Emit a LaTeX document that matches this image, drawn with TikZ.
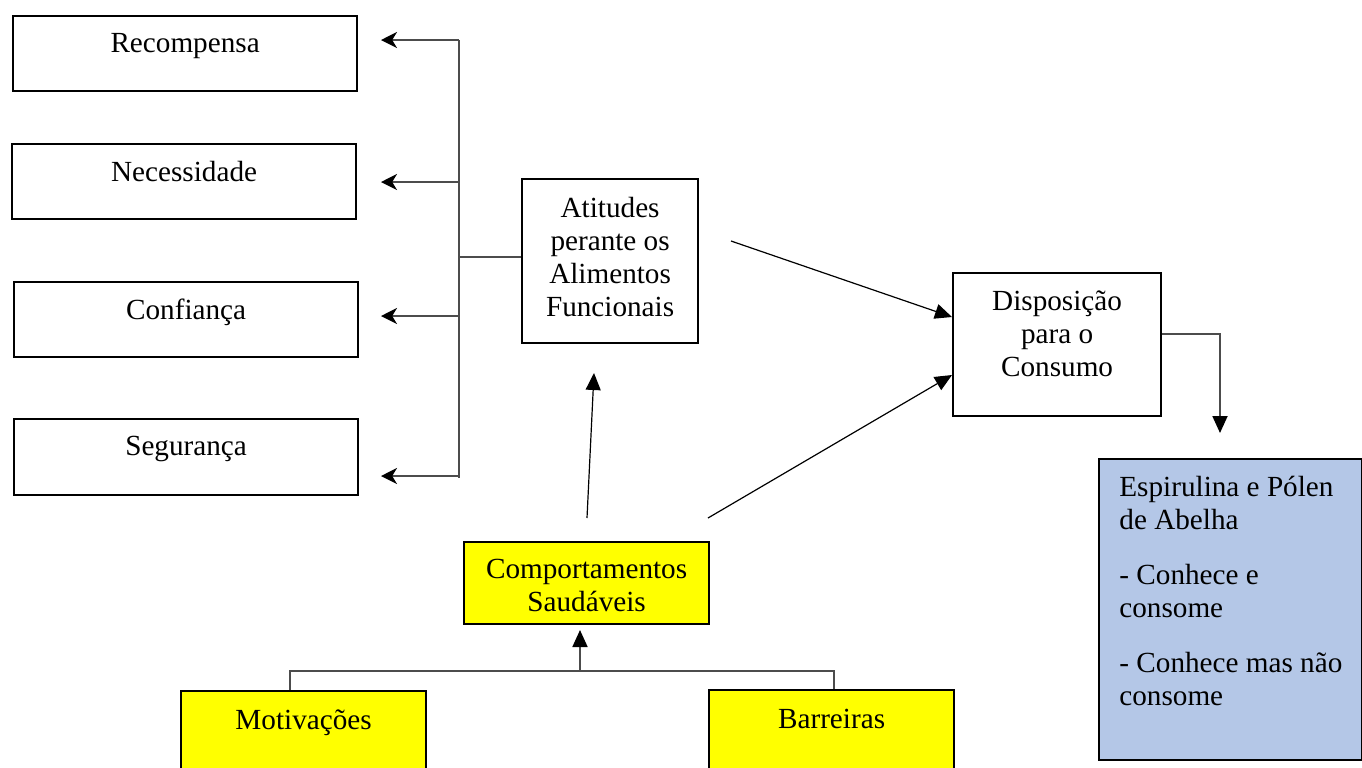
\documentclass[tikz,border=0pt]{standalone}
\usepackage{fontspec}
\setmainfont{Liberation Serif}
\usetikzlibrary{arrows.meta,calc}
\definecolor{boxyellow}{RGB}{255,255,0}
\definecolor{boxblue}{RGB}{180,199,231}
\begin{document}
\begin{tikzpicture}[x=0.5pt,y=-0.5pt,
  box/.style={draw=black, line width=1.1pt, inner sep=0pt, anchor=north west},
  widebox/.style={box, minimum width=172pt, minimum height=37.5pt},
  yellowbox/.style={box, fill=boxyellow, minimum width=122.5pt},
  lbl/.style={anchor=north, inner sep=0pt, align=center, font=\fontsize{14.6}{16.5}\selectfont},
  tree/.style={draw=black!70, line width=0.9pt},
  link/.style={draw=black, line width=0.6pt},
  tipS/.style={-{Stealth[length=8pt,width=8pt,inset=2.4pt,color=black]}},
  tipT/.style={-{Triangle[length=8.5pt,width=7.5pt,color=black]}},
]
\useasboundingbox (0,0) rectangle (1362,767);
\clip (0,0) rectangle (1362,767);

% left column of factors
\node[widebox] (rec) at (12,15) {};
\node[widebox] (nec) at (11,143) {};
\node[widebox] (conf) at (13,281) {};
\node[widebox, minimum height=38pt] (seg) at (13,418) {};
\node[lbl] (rec-t) at ($(rec.north)+(0,18)$) {Recompensa};
\node[lbl] (nec-t) at ($(nec.north)+(0,18)$) {Necessidade};
\node[lbl] (conf-t) at ($(conf.north)+(0,18)$) {Confiança};
\node[lbl] (seg-t) at ($(seg.north)+(0,18)$) {Segurança};

% central boxes
\node[box, minimum width=88pt, minimum height=82pt] (atit) at (521,178) {};
\node[lbl] (atit-t) at ($(atit.north)+(0,19)$) {Atitudes\\perante os\\Alimentos\\Funcionais};
\node[box, minimum width=104pt, minimum height=71.5pt] (disp) at (952,272) {};
\node[lbl] (disp-t) at ($(disp.north)+(0,18)$) {Disposição\\para o\\Consumo};
\node[box, fill=boxblue, minimum width=131.5pt, minimum height=150.5pt] (esp) at (1098,458) {};
\node[lbl, anchor=north west, align=left] (esp-t) at ($(esp.north west)+(21,18)$)
  {Espirulina e Pólen\\de Abelha\\[11pt]- Conhece e\\consome\\[11pt]- Conhece mas não\\consome};

% healthy behaviour boxes
\node[yellowbox, minimum height=41pt] (comp) at (463,541) {};
\node[lbl] (comp-t) at ($(comp.north)+(0,18)$) {Comportamentos\\Saudáveis};
\node[yellowbox, minimum height=60pt] (motiv) at (180,690) {};
\node[lbl] (motiv-t) at ($(motiv.north)+(0,19)$) {Motivações};
\node[yellowbox, minimum height=60pt] (barr) at (708,689) {};
\node[lbl] (barr-t) at ($(barr.north)+(0,20)$) {Barreiras};

% fan-out from the attitudes box to the four factors
\coordinate (spT) at (459,40);
\coordinate (spB) at (459,478);
\coordinate (hub) at (459,257);
\coordinate (aRec) at (381,40);
\coordinate (aNec) at (381,182);
\coordinate (aConf) at (381,316);
\coordinate (aSeg) at (381,476);
\draw[tree] (spT) -- (spB);
\draw[tree] (hub) -- (hub -| atit.west);
\draw[tree, tipS] (spT) -- (aRec);
\draw[tree, tipS] (aNec -| spT) -- (aNec);
\draw[tree, tipS] (aConf -| spT) -- (aConf);
\draw[tree, tipS] (aSeg -| spT) -- (aSeg);

% arrows into the disposition box
\coordinate (a1s) at (731,241);
\coordinate (a2s) at (708,518);
\draw[link, tipT] (a1s) -- ($(disp.north west)+(0,45)$);
\draw[link, tipT] (a2s) -- ($(disp.north west)+(0,103)$);

% behaviours to attitudes
\coordinate (c1s) at (587,518);
\coordinate (c1e) at (594,373);
\draw[link, tipT] (c1s) -- (c1e);

% disposition to products
\coordinate (dTurn) at (1220,334);
\coordinate (dEnd) at (1220,433);
\draw[tree, tipT] ($(disp.north east)+(0,62)$) -- (dTurn) -- (dEnd);

% motivations and barriers to behaviours
\coordinate (bl) at (290,671);
\coordinate (br) at (834,671);
\coordinate (bm) at (580,671);
\coordinate (bmEnd) at (580,630);
\draw[tree] (bl |- motiv.north) -- (bl) -- (br) -- (br |- barr.north);
\draw[tree, tipT] (bm) -- (bmEnd);
\end{tikzpicture}
\end{document}
